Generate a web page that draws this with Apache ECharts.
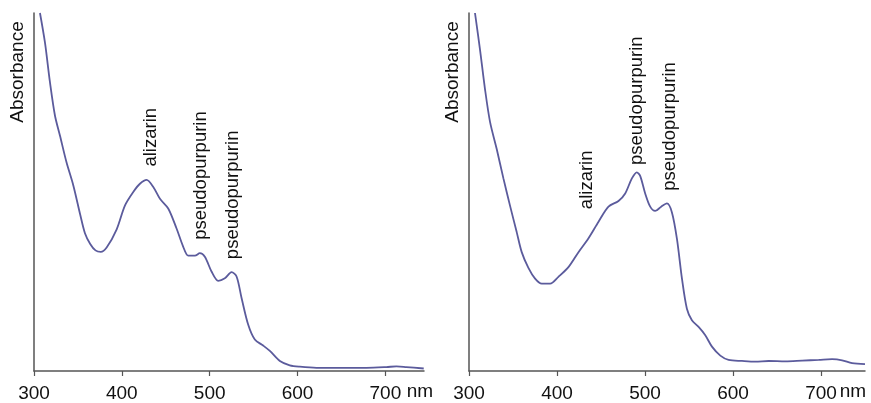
<!DOCTYPE html>
<html>
<head>
<meta charset="utf-8">
<script src="https://cdn.jsdelivr.net/npm/echarts@6/dist/echarts.min.js"></script>
<style>
  html, body { margin: 0; padding: 0; background: #fff; }
  #chart { width: 871px; height: 403px; }
</style>
</head>
<body>
<div id="chart"></div>
<script>
// wavelength ticks (nm)
var xTicks = [300, 400, 500, 600, 700];

// left spectrum
var leftNm = [306.8, 312.5, 318.2, 323.9, 329.6, 337, 344.7, 352.3, 358, 364, 370, 376, 382.7, 394, 403.5, 413, 420.6, 428.2, 435.8, 443.4, 452.8, 462.3, 469.9, 475.6, 483.2, 488.8, 494.5, 502.1, 509.7, 517.3, 524.9, 530.6, 536.3, 543.8, 551.4, 560.9, 568.5, 579.9, 591.2, 602.6, 621.6, 640.5, 678.5, 701.2, 712.6, 724, 743.7];
var leftAbs = [1.0, 0.917, 0.806, 0.713, 0.657, 0.583, 0.519, 0.440, 0.385, 0.355, 0.337, 0.333, 0.345, 0.395, 0.462, 0.5, 0.523, 0.534, 0.514, 0.481, 0.454, 0.398, 0.347, 0.322, 0.322, 0.329, 0.319, 0.278, 0.252, 0.259, 0.276, 0.264, 0.204, 0.130, 0.088, 0.071, 0.056, 0.028, 0.016, 0.012, 0.009, 0.009, 0.009, 0.011, 0.013, 0.011, 0.007];

// right spectrum
var rightNm = [306.8, 312.5, 318.2, 323.9, 331.5, 339.1, 346.6, 354.2, 359.9, 367.5, 375.1, 382.7, 392.2, 401.6, 413, 424.4, 435.8, 447.2, 458.5, 469.9, 477.5, 485.1, 490.7, 494.5, 500.2, 505.9, 511.6, 518.4, 524.9, 530.6, 536.3, 542, 547.6, 553.3, 560.9, 568.5, 576.1, 585.6, 595, 610.2, 625.4, 640.5, 659.5, 678.5, 697.4, 712.6, 724, 735.3, 750];
var rightAbs = [1.0, 0.898, 0.787, 0.696, 0.620, 0.538, 0.462, 0.388, 0.332, 0.288, 0.258, 0.244, 0.244, 0.263, 0.290, 0.332, 0.371, 0.417, 0.459, 0.475, 0.496, 0.538, 0.555, 0.545, 0.496, 0.459, 0.447, 0.459, 0.468, 0.443, 0.369, 0.258, 0.174, 0.142, 0.123, 0.100, 0.068, 0.043, 0.031, 0.028, 0.026, 0.028, 0.027, 0.029, 0.031, 0.033, 0.030, 0.022, 0.019];

// peak labels: name, nm, height of label centre
var leftLabels = [['alizarin', 433, 0.653], ['pseudopurpurin', 490, 0.546], ['pseudopurpurin', 526, 0.492]];
var rightLabels = [['alizarin', 434, 0.534], ['pseudopurpurin', 491, 0.755], ['pseudopurpurin', 528, 0.683]];

var lineColor = '#5b5b9c';
var textColor = '#111';
var axisColor = '#555';
var font = 'Liberation Sans';

function zip(xs, ys) {
    return xs.map(function (x, i) { return [x, ys[i]]; });
}

function xAxisFor(idx, max) {
    return {
        type: 'value', gridIndex: idx, min: 300, max: max, interval: 100,
        splitLine: { show: false },
        axisLine: { lineStyle: { color: axisColor, width: 1.5 } },
        axisTick: { length: 5, lineStyle: { color: axisColor, width: 1.2 } },
        axisLabel: {
            fontSize: 19, color: textColor, margin: 13, fontFamily: font,
            showMaxLabel: false,
            formatter: function (v) { return xTicks.indexOf(v) >= 0 ? String(v) : ''; }
        }
    };
}

function yAxisFor(idx) {
    return {
        type: 'value', gridIndex: idx, min: 0, max: 1,
        splitLine: { show: false },
        axisLine: { show: true, lineStyle: { color: axisColor, width: 1.5 } },
        axisTick: { show: false },
        axisLabel: { show: false }
    };
}

function lineSeries(idx, xs, ys) {
    return {
        type: 'line', xAxisIndex: idx, yAxisIndex: idx,
        data: zip(xs, ys), smooth: 0.3, showSymbol: false, symbol: 'none',
        lineStyle: { color: lineColor, width: 1.8 },
        clip: true, silent: true
    };
}

function labelSeries(idx, labels) {
    return {
        type: 'scatter', xAxisIndex: idx, yAxisIndex: idx,
        symbolSize: 0, itemStyle: { color: '#fff', opacity: 1 }, silent: true,
        data: labels.map(function (l) { return { name: l[0], value: [l[1], l[2]] }; }),
        label: {
            show: true, position: 'inside', rotate: 90, opacity: 1,
            textBorderWidth: 0, textShadowBlur: 0,
            formatter: '{b}', fontSize: 18.5, color: textColor, fontFamily: font
        }
    };
}

function textAt(x, y, text, rotate) {
    return {
        type: 'text', x: x, y: y, rotation: rotate ? Math.PI / 2 : 0,
        style: { text: text, fill: textColor, fontSize: 19, fontFamily: font, align: 'center', verticalAlign: 'middle' }
    };
}

var myChart = echarts.init(document.getElementById('chart'));

var option = {
    animation: false,
    grid: [
        { left: 34, width: 390, top: 13, height: 361 },
        { left: 469, width: 396, top: 13, height: 361 }
    ],
    xAxis: [xAxisFor(0, 744), xAxisFor(1, 750)],
    yAxis: [yAxisFor(0), yAxisFor(1)],
    series: [
        lineSeries(0, leftNm, leftAbs),
        lineSeries(1, rightNm, rightAbs),
        labelSeries(0, leftLabels),
        labelSeries(1, rightLabels)
    ],
    graphic: [
        textAt(18, 72, 'Absorbance', true),
        textAt(453, 72, 'Absorbance', true),
        textAt(420, 392, 'nm'),
        textAt(853, 392, 'nm')
    ]
};

myChart.setOption(option);
</script>
</body>
</html>
